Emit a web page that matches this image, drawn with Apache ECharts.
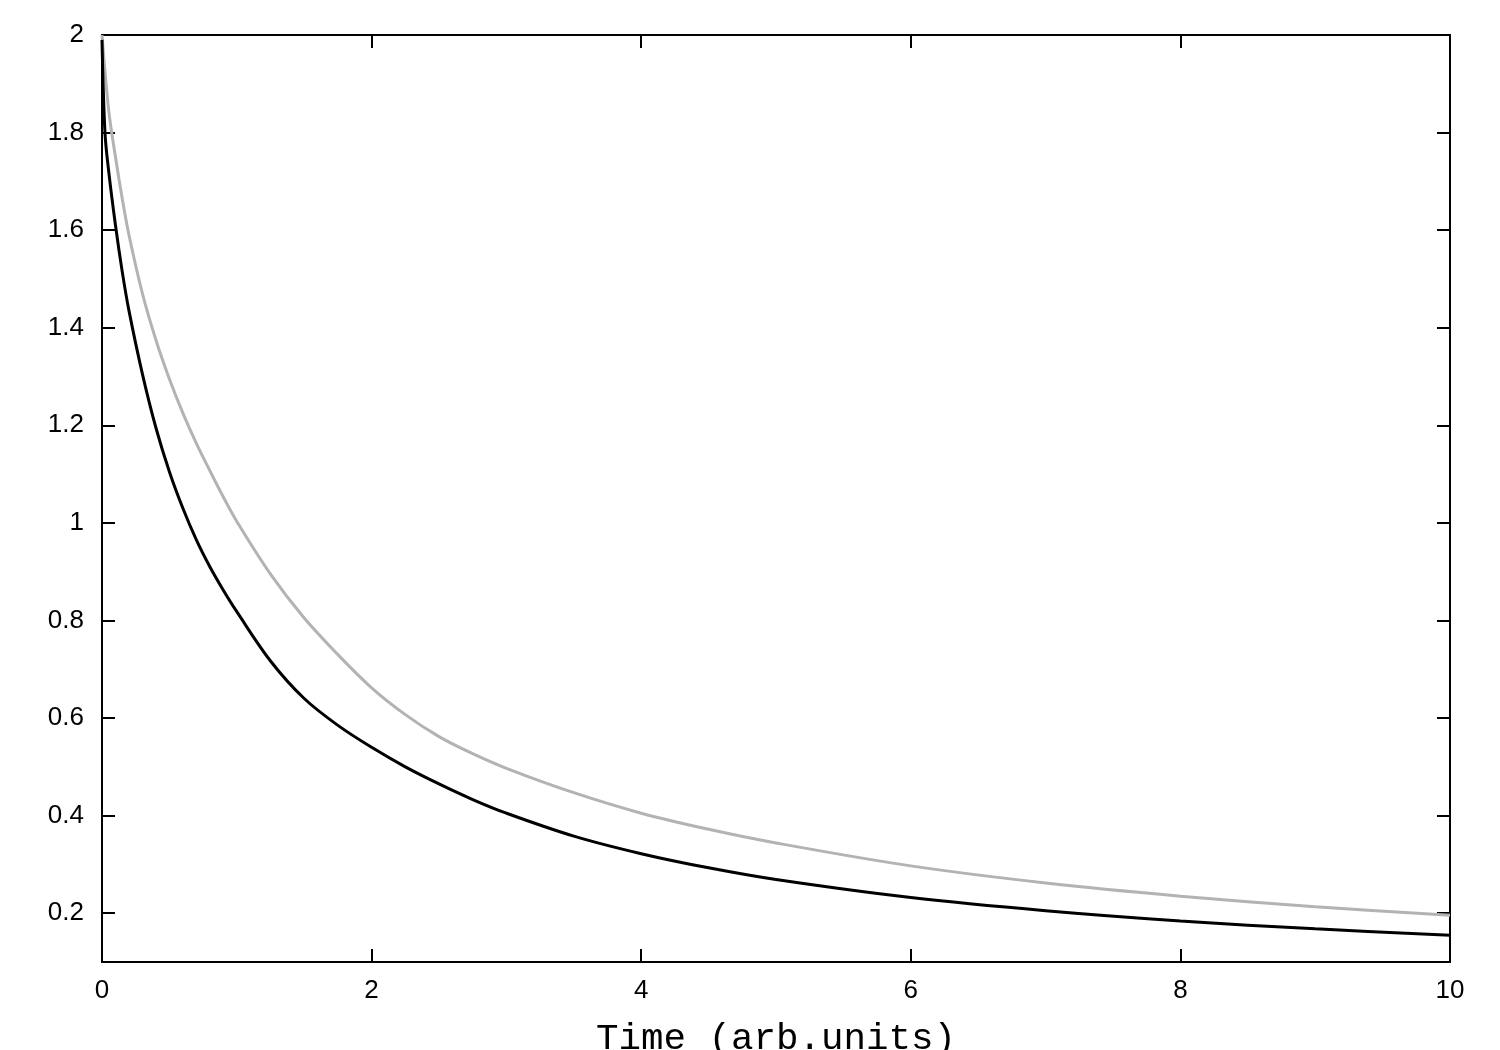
<!DOCTYPE html>
<html>
<head>
<meta charset="utf-8">
<title>decay curves</title>
<script src="https://cdn.jsdelivr.net/npm/echarts@6/dist/echarts.min.js"></script>
<style>
html, body { margin: 0; padding: 0; background: #fff; }
#chart { width: 1500px; height: 1050px; }
</style>
</head>
<body>
<div id="chart"></div>
<script>
// values
var timeGrey = [0, 0.05, 0.1, 0.15, 0.2, 0.3, 0.4, 0.5, 0.6, 0.7, 0.8, 0.9, 1, 1.25, 1.5, 1.75, 2, 2.25, 2.5, 2.75, 3, 3.5, 4, 4.5, 5, 6, 7, 8, 9, 10]
var greyCurve = [2.0, 1.845, 1.75, 1.665, 1.59, 1.47, 1.375, 1.295, 1.225, 1.163, 1.107, 1.053, 1.003, 0.895, 0.805, 0.73, 0.662, 0.607, 0.562, 0.527, 0.497, 0.447, 0.405, 0.372, 0.344, 0.297, 0.262, 0.235, 0.213, 0.196]

var timeBlack = [0, 0.022, 0.05, 0.1, 0.15, 0.2, 0.3, 0.4, 0.5, 0.6, 0.7, 0.8, 0.9, 1, 1.25, 1.5, 1.75, 2, 2.25, 2.5, 2.75, 3, 3.5, 4, 4.5, 5, 6, 7, 8, 9, 10]
var blackCurve = [1.99, 1.8, 1.72, 1.61, 1.515, 1.435, 1.305, 1.195, 1.105, 1.03, 0.965, 0.91, 0.862, 0.818, 0.717, 0.64, 0.585, 0.54, 0.5, 0.465, 0.433, 0.405, 0.358, 0.322, 0.293, 0.269, 0.232, 0.205, 0.184, 0.168, 0.155]

var yTicks = [0.2, 0.4, 0.6, 0.8, 1, 1.2, 1.4, 1.6, 1.8, 2]
var xTitle = 'Time (arb.units)'

function pairs(xs, ys) {
  return xs.map(function (x, i) { return [x, ys[i]] })
}

var labelFont = { fontFamily: 'Liberation Sans', fontSize: 26, color: '#000' }
var lineStyle = { color: '#000', width: 2 }
var tickStyle = { show: true, inside: true, length: 13, lineStyle: { color: '#000', width: 2 } }

var option = {
  animation: false,
  backgroundColor: '#fff',
  grid: { left: 102, right: 50, top: 35, bottom: 88, containLabel: false, outerBoundsMode: 'none' },
  xAxis: [{
    type: 'value',
    position: 'bottom',
    min: 0,
    max: 10,
    interval: 2,
    axisLine: { show: true, onZero: false, lineStyle: lineStyle },
    axisTick: tickStyle,
    axisLabel: Object.assign({ margin: 16 }, labelFont),
    splitLine: { show: false },
    name: xTitle,
    nameLocation: 'middle',
    nameGap: 58,
    nameTextStyle: { fontFamily: 'Liberation Mono', fontSize: 37.5, color: '#000' }
  }, {
    type: 'value',
    position: 'top',
    min: 0,
    max: 10,
    interval: 2,
    axisLine: { show: true, onZero: false, lineStyle: lineStyle },
    axisTick: tickStyle,
    axisLabel: { show: false },
    splitLine: { show: false }
  }],
  yAxis: [{
    type: 'value',
    position: 'left',
    min: 0.1,
    max: 2,
    axisLine: { show: true, onZero: false, lineStyle: lineStyle },
    axisTick: Object.assign({ customValues: yTicks }, tickStyle),
    axisLabel: Object.assign({
      customValues: yTicks,
      margin: 18,
      formatter: function (v) { return String(+v.toFixed(1)) }
    }, labelFont),
    splitLine: { show: false }
  }, {
    type: 'value',
    position: 'right',
    min: 0.1,
    max: 2,
    axisLine: { show: true, onZero: false, lineStyle: lineStyle },
    axisTick: Object.assign({ customValues: yTicks }, tickStyle),
    axisLabel: { show: false },
    splitLine: { show: false }
  }],
  series: [{
    name: 'grey',
    type: 'line',
    data: pairs(timeGrey, greyCurve),
    smooth: 0.35,
    showSymbol: false,
    lineStyle: { color: '#b3b3b3', width: 3 },
    z: 3
  }, {
    name: 'black',
    type: 'line',
    data: pairs(timeBlack, blackCurve),
    smooth: 0.35,
    showSymbol: false,
    lineStyle: { color: '#000', width: 3 },
    z: 4
  }]
}

var myChart = echarts.init(document.getElementById('chart'), null, { renderer: 'canvas' })
myChart.setOption(option)
</script>
</body>
</html>
